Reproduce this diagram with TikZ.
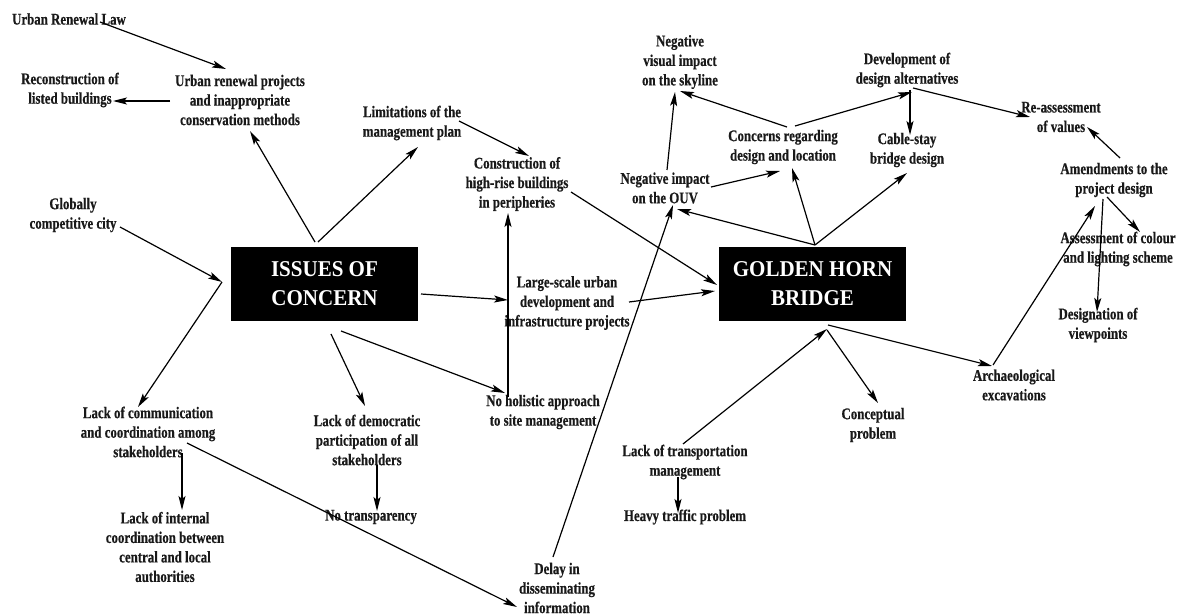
\documentclass[tikz,border=0pt]{standalone}
\usepackage{fontspec}
\newfontfamily\lbl[FakeStretch=0.79,FakeBold=0.4]{Liberation Serif}
\newfontfamily\hdr[FakeStretch=0.93]{Liberation Serif}
\usetikzlibrary{arrows.meta}

\begin{document}
\begin{tikzpicture}[x=1pt,y=-1pt,
  txt/.style={font=\lbl\bfseries\fontsize{16.3}{19.5}\selectfont, align=center, inner sep=0pt, text=black!90},
  hub/.style={fill=black, minimum width=187pt, minimum height=74pt, inner sep=0pt,
              text=white, font=\hdr\bfseries\fontsize{22.6}{29}\selectfont, align=center},
  arr/.style={line width=1.2pt, -{Stealth[length=14pt,width=7pt,inset=3pt]}},
  ln/.style={line width=1.2pt}
]
\useasboundingbox[fill=white] (0,0) rectangle (1182,615);

% central hubs
\node[hub] (issues) at (324.5,284) {ISSUES OF\\CONCERN};
\node[hub] (golden) at (812.5,284) {GOLDEN HORN\\BRIDGE};

% left-hand issues
\node[txt] (law)      at (69,19)   {Urban Renewal Law};
\node[txt] (urp)      at (240,100) {Urban renewal projects\\and inappropriate\\conservation methods};
\node[txt] (recon)    at (70,90)   {Reconstruction of\\listed buildings};
\node[txt] (lim)      at (412,123) {Limitations of the\\management plan};
\node[txt] (cons)     at (517,184) {Construction of\\high-rise buildings\\in peripheries};
\node[txt] (glob)     at (73,215)  {Globally\\competitive city};
\node[txt] (large)    at (567,303) {Large-scale urban\\development and\\infrastructure projects};
\node[txt] (holi)     at (543,412) {No holistic approach\\to site management};
\node[txt] (demo)     at (367,440) {Lack of democratic\\participation of all\\stakeholders};
\node[txt] (transp)   at (371,517) {No transparency};
\node[txt] (comm)     at (148,432) {Lack of communication\\and coordination among\\stakeholders};
\node[txt] (internal) at (165,547) {Lack of internal\\coordination between\\central and local\\authorities};
\node[txt] (delay)    at (557,588) {Delay in\\disseminating\\information};

% bridge-related issues
\node[txt] (sky)      at (680,62)   {Negative\\visual impact\\on the skyline};
\node[txt] (ouv)      at (665,188)  {Negative impact\\on the OUV};
\node[txt] (conc)     at (783,147)  {Concerns regarding\\design and location};
\node[txt] (dev)      at (907,70)   {Development of\\design alternatives};
\node[txt] (cable)    at (907,150)  {Cable-stay\\bridge design};
\node[txt] (reass)    at (1061,117) {Re-assessment\\of values};
\node[txt] (amend)    at (1114,180) {Amendments to the\\project design};
\node[txt] (assess)   at (1118,249) {Assessment of colour\\and lighting scheme};
\node[txt] (desig)    at (1098,325) {Designation of\\viewpoints};
\node[txt] (arch)     at (1014,385) {Archaeological\\excavations};
\node[txt] (concept)  at (873,425)  {Conceptual\\problem};
\node[txt] (trans)    at (685,462)  {Lack of transportation\\management};
\node[txt] (traffic)  at (685,517)  {Heavy traffic problem};

% bend point between the global-city link and the communication link
\coordinate (gj) at (222,282);

% connectors around ISSUES OF CONCERN
\draw[arr] ([shift={(31,3)}]law.center) -- ([shift={(-14,-31)}]urp.center);
\draw[arr] ([shift={(-70,1)}]urp.center) -- ([shift={(43,11)}]recon.center);
\draw[arr] ([shift={(-9.5,-42)}]issues.center) -- ([shift={(10,31)}]urp.center);
\draw[arr] ([shift={(-6.5,-42)}]issues.center) -- ([shift={(6,24)}]lim.center);
\draw[arr] ([shift={(47,-2)}]lim.center) -- ([shift={(12,-28)}]cons.center);
\draw[arr] ([shift={(54,8)}]cons.center) -- ([shift={(-95.5,1)}]golden.center);
\draw[arr] ([shift={(96.5,10)}]issues.center) -- ([shift={(-59,-3)}]large.center);
\draw[arr] ([shift={(62,-1)}]large.center) -- ([shift={(-97.5,7)}]golden.center);
\draw[arr] ([shift={(-35,-15)}]holi.center) -- ([shift={(-9,29)}]cons.center);
\draw[arr] ([shift={(16.5,47)}]issues.center) -- ([shift={(-38,-19)}]holi.center);
\draw[arr] ([shift={(6.5,50)}]issues.center) -- ([shift={(-2,-34)}]demo.center);
\draw[arr] ([shift={(47,12)}]glob.center) -- (gj);
\draw[arr] (gj) -- ([shift={(-10,-25)}]comm.center);
\draw[arr] ([shift={(34,21)}]comm.center) -- ([shift={(17,-37)}]internal.center);
\draw[arr] ([shift={(39,11)}]comm.center) -- ([shift={(-40,19)}]delay.center);
\draw[arr] ([shift={(10,25)}]demo.center) -- ([shift={(6,-6)}]transp.center);
\draw[arr] ([shift={(-4,-31)}]delay.center) -- ([shift={(8,17)}]ouv.center);

% connectors around GOLDEN HORN BRIDGE
\draw[arr] ([shift={(2.5,-39)}]golden.center) -- ([shift={(12,21)}]ouv.center);
\draw[arr] ([shift={(2.5,-39)}]golden.center) -- ([shift={(9,21)}]conc.center);
\draw[arr] ([shift={(2.5,-39)}]golden.center) -- ([shift={(0,23)}]cable.center);
\draw[arr] ([shift={(46,-1)}]ouv.center) -- ([shift={(-3,24)}]conc.center);
\draw[arr] ([shift={(2,-18)}]ouv.center) -- ([shift={(-5,30)}]sky.center);
\draw[arr] ([shift={(4,-20)}]conc.center) -- ([shift={(0,29)}]sky.center);
\draw[arr] ([shift={(12,-21)}]conc.center) -- ([shift={(5,22)}]dev.center);
\draw[arr] ([shift={(3,20)}]dev.center) -- ([shift={(3,-15)}]cable.center);
\draw[arr] ([shift={(6,18)}]dev.center) -- ([shift={(-31,0)}]reass.center);
\draw[arr] ([shift={(6,-22)}]amend.center) -- ([shift={(26,10)}]reass.center);
\draw[arr] ([shift={(-7,17)}]amend.center) -- ([shift={(22,-17)}]assess.center);
\draw[arr] ([shift={(-11,19)}]amend.center) -- ([shift={(-1,-13)}]desig.center);
\draw[arr] ([shift={(-21,-20)}]arch.center) -- ([shift={(-19,26)}]amend.center);
\draw[arr] ([shift={(15.5,41)}]golden.center) -- ([shift={(-22,-19)}]arch.center);
\draw[arr] ([shift={(14.5,46)}]golden.center) -- ([shift={(5,-22)}]concept.center);
\draw[arr] ([shift={(-2,-18)}]trans.center) -- ([shift={(14.5,45)}]golden.center);
\draw[arr] ([shift={(-7,15)}]trans.center) -- ([shift={(-7,-4)}]traffic.center);
\end{tikzpicture}
\end{document}
